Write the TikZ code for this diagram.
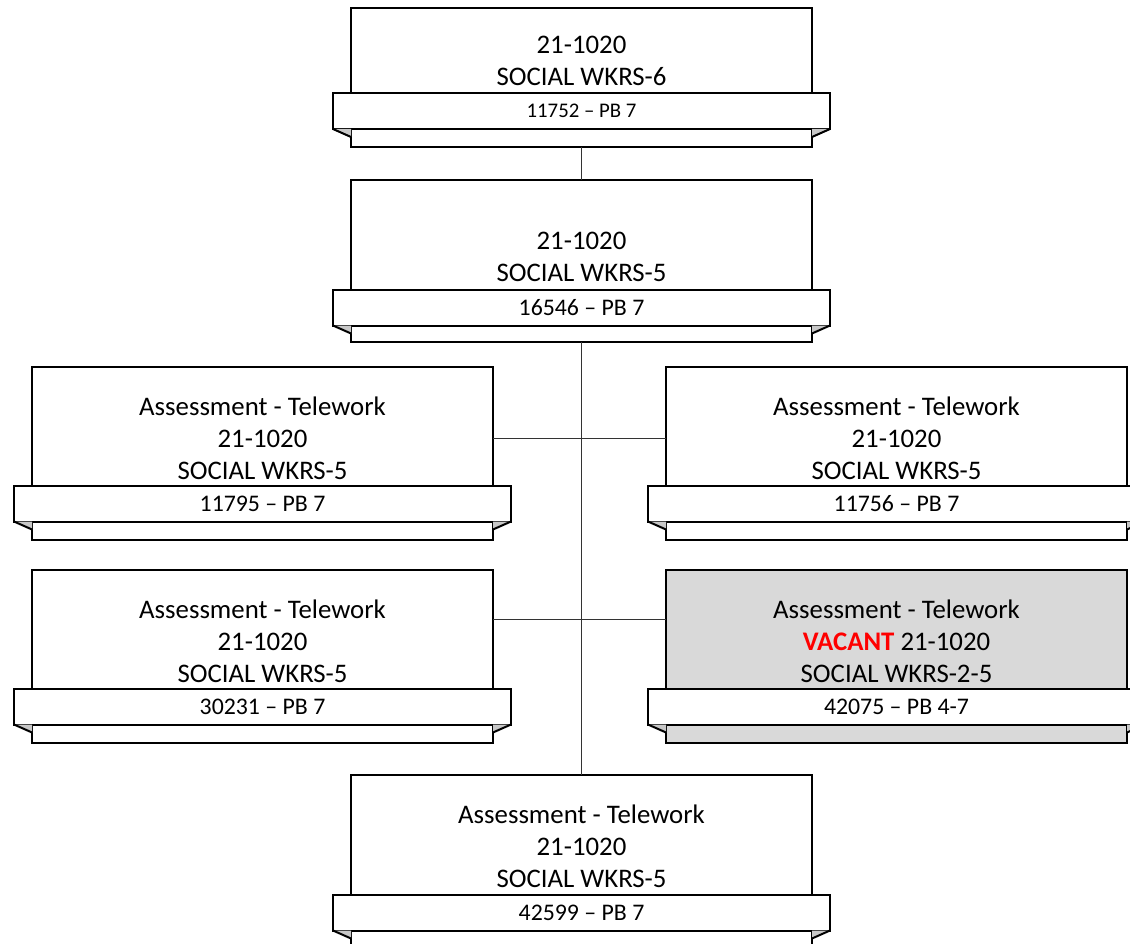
\documentclass[tikz,border=0pt]{standalone}
\usepackage{fontspec}
\setmainfont{Carlito}
\usetikzlibrary{positioning, calc}
\definecolor{VacantRed}{RGB}{255,0,0}
\definecolor{VacantGray}{RGB}{217,217,217}
\definecolor{FoldGray}{RGB}{200,200,200}
\tikzset{
    posbox/.style={
        draw, line width=2pt, fill=white, minimum width=461pt, outer sep=0pt, inner sep=0pt
    },
    posbanner/.style={
        draw, line width=2pt, fill=white, minimum width=497pt, minimum height=36pt,
        outer sep=0pt, inner sep=0pt, font=\fontsize{23.8}{26}\selectfont
    },
    postext/.style={
        align=center, inner sep=0pt, font=\fontsize{26.8}{32}\selectfont
    },
    orgline/.style={
        line width=1pt, black!80
    }
}
% ribbon ends of a banner: #1 box, #2 banner
\newcommand{\bannerfolds}[2]{%
    \fill[FoldGray] (#2.south west) -- (#1.west |- #2.south) -- ++(0,8) -- cycle;
    \draw[line width=2pt, line join=round] (#2.south west) -- ++(18,8);
    \fill[FoldGray] (#2.south east) -- (#1.east |- #2.south) -- ++(0,8) -- cycle;
    \draw[line width=2pt, line join=round] (#2.south east) -- ++(-18,8);
}
\begin{document}
\begin{tikzpicture}[x=1pt, y=-1pt]
    \clip (0,0) rectangle (1130,944);
    \useasboundingbox (0,0) rectangle (1130,944);

    % --- 1. POSITIONS ---
    % head
    \node[posbox, minimum height=139pt] (p1) at (581.5,77.5) {};
    \node[posbanner, font=\fontsize{20.8}{24}\selectfont] (p1b) at (581.5,111) {11752 -- PB 7};
    \bannerfolds{p1}{p1b}
    \node[postext] (p1t) at (581.5,61) {21-1020\\SOCIAL WKRS-6};

    % supervisor
    \node[posbox, minimum height=162pt] (p2) at (581.5,261) {};
    \node[posbanner] (p2b) at (581.5,307.5) {16546 -- PB 7};
    \bannerfolds{p2}{p2b}
    \node[postext] (p2t) at (581.5,257) {21-1020\\SOCIAL WKRS-5};

    % row 1
    \node[posbox, minimum height=173pt] (p3) at (262.5,453.5) {};
    \node[posbanner] (p3b) at (262.5,503.5) {11795 -- PB 7};
    \bannerfolds{p3}{p3b}
    \node[postext] (p3t) at (262.5,438) {Assessment - Telework\\21-1020\\SOCIAL WKRS-5};

    \node[posbox, minimum height=173pt] (p4) at (896.5,453.5) {};
    \node[posbanner] (p4b) at (896.5,503.5) {11756 -- PB 7};
    \bannerfolds{p4}{p4b}
    \node[postext] (p4t) at (896.5,438) {Assessment - Telework\\21-1020\\SOCIAL WKRS-5};

    % row 2
    \node[posbox, minimum height=173pt] (p5) at (262.5,656.5) {};
    \node[posbanner] (p5b) at (262.5,706.5) {30231 -- PB 7};
    \bannerfolds{p5}{p5b}
    \node[postext] (p5t) at (262.5,641) {Assessment - Telework\\21-1020\\SOCIAL WKRS-5};

    \node[posbox, minimum height=173pt, fill=VacantGray] (p6) at (896.5,656.5) {};
    \node[posbanner] (p6b) at (896.5,706.5) {42075 -- PB 4-7};
    \bannerfolds{p6}{p6b}
    \node[postext] (p6t) at (896.5,641) {Assessment - Telework\\\textcolor{VacantRed}{\textbf{VACANT}} 21-1020\\SOCIAL WKRS-2-5};

    % bottom
    \node[posbox, minimum height=173pt] (p7) at (581.5,861.5) {};
    \node[posbanner] (p7b) at (581.5,912.5) {42599 -- PB 7};
    \bannerfolds{p7}{p7b}
    \node[postext] (p7t) at (581.5,846) {Assessment - Telework\\21-1020\\SOCIAL WKRS-5};

    % --- 2. LINES ---
    \draw[orgline] (p1.south) -- (p2.north);
    \draw[orgline] (p2.south) -- (p7.north);
    \draw[orgline] ($(p3.north east)+(0,71)$) -- ($(p4.north west)+(0,71)$);
    \draw[orgline] ($(p5.north east)+(0,49)$) -- ($(p6.north west)+(0,49)$);
\end{tikzpicture}
\end{document}
